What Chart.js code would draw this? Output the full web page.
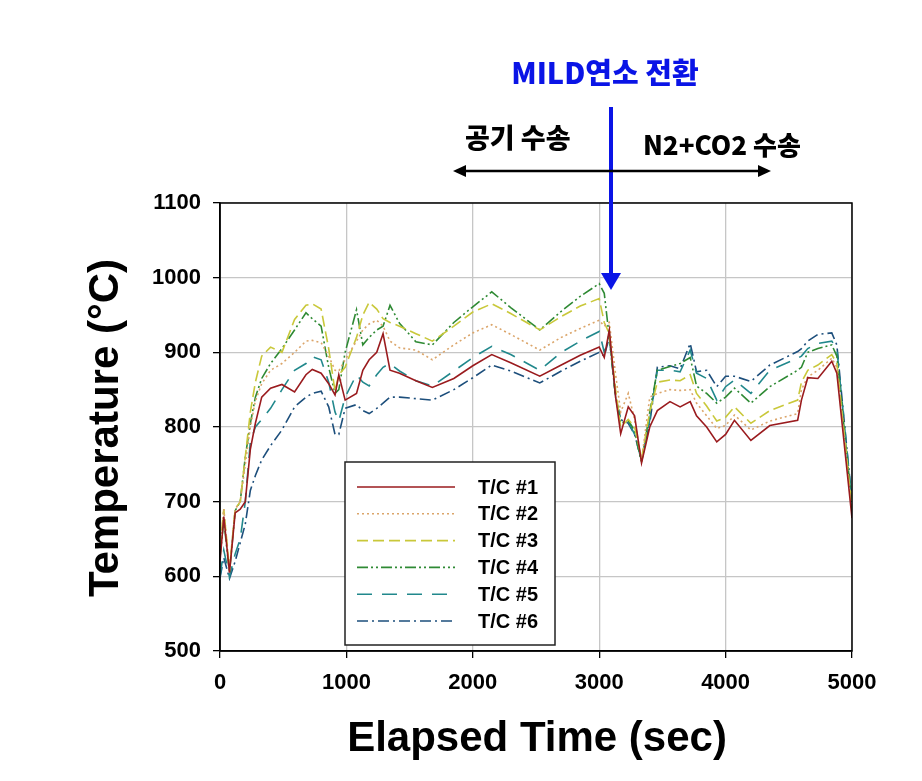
<!DOCTYPE html>
<html>
<head>
<meta charset="utf-8">
<script src="https://cdn.jsdelivr.net/npm/chart.js@4.4.1/dist/chart.umd.min.js"></script>
<style>
  body { margin: 0; background: #fff; }
  canvas { display: block; }
</style>
</head>
<body>
<canvas id="chart" width="922" height="781"></canvas>
<script>
// elapsed time (sec), shared by all thermocouples
const times = [0, 30, 75, 120, 160, 200, 240, 280, 330, 400, 490, 590, 680, 730, 800, 860, 910, 940, 990,
  1080, 1130, 1180, 1240, 1290, 1345, 1420, 1550, 1680, 1850, 2000, 2150, 2300, 2530, 2700, 2850, 3000,
  3040, 3080, 3130, 3170, 3230, 3280, 3335, 3400, 3460, 3560, 3640, 3720, 3770, 3850, 3930, 4000, 4070,
  4200, 4350, 4570, 4600, 4650, 4730, 4840, 4880, 5000];

const tc1 = [620, 680, 605, 685, 690, 700, 770, 805, 840, 852, 857, 847, 870, 877, 872, 858, 843, 870, 836,
  845, 876, 890, 900, 925, 876, 872, 862, 853, 865, 882, 897, 886, 868, 883, 896, 907,
  893, 930, 840, 791, 827, 815, 752, 800, 822, 834, 827, 834, 815, 800, 780, 790, 809,
  782, 802, 809, 836, 866, 865, 888, 872, 678];
const tc2 = [630, 690, 608, 690, 700, 750, 800, 835, 858, 876, 885, 900, 915, 916, 913, 895, 876, 875, 890,
  915, 930, 938, 943, 935, 915, 906, 903, 890, 910, 926, 937, 924, 903, 920, 932, 943,
  935, 940, 870, 820, 845, 810, 755, 840, 845, 850, 849, 850, 832, 815, 798, 802, 816,
  796, 808, 818, 850, 867, 876, 892, 880, 685];
const tc3 = [640, 690, 610, 690, 700, 760, 820, 860, 895, 907, 900, 944, 963, 965, 958, 905, 848, 870, 880,
  920, 950, 967, 958, 945, 940, 935, 925, 915, 935, 954, 965, 952, 930, 948, 962, 972,
  940, 925, 850, 800, 810, 800, 758, 820, 860, 863, 862, 870, 845, 828, 808, 813, 827,
  805, 822, 836, 860, 876, 883, 897, 885, 690];
const tc4 = [625, 675, 605, 688, 700, 760, 805, 840, 865, 885, 905, 930, 953, 945, 935, 880, 845, 850, 900,
  957, 910, 920, 930, 935, 963, 939, 914, 910, 940, 961, 981, 960, 930, 955, 975, 992,
  979, 920, 840, 805, 809, 795, 752, 820, 876, 881, 885, 893, 855, 845, 832, 840, 852,
  832, 854, 876, 880, 900, 905, 910, 895, 695];
const tc5 = [600, 635, 599, 630, 650, 700, 780, 800, 810, 825, 850, 876, 885, 894, 890, 860, 820, 808, 840,
  870, 860, 855, 870, 880, 885, 875, 862, 855, 875, 893, 908, 897, 876, 900, 915, 928,
  900, 925, 840, 810, 808, 790, 755, 810, 876, 876, 874, 903, 872, 865, 836, 854, 863,
  845, 876, 892, 895, 905, 912, 915, 905, 700];
const tc6 = [598, 625, 597, 620, 645, 670, 715, 735, 756, 775, 796, 827, 840, 845, 848, 827, 790, 790, 825,
  830, 822, 818, 825, 832, 840, 840, 838, 836, 850, 866, 883, 875, 859, 875, 888, 900,
  895, 920, 840, 810, 805, 790, 755, 805, 880, 882, 878, 912, 874, 876, 854, 868, 868,
  861, 883, 901, 905, 915, 924, 926, 910, 700];

const seriesNames = ['T/C #1', 'T/C #2', 'T/C #3', 'T/C #4', 'T/C #5', 'T/C #6'];
const seriesValues = [tc1, tc2, tc3, tc4, tc5, tc6];

const xTitle = 'Elapsed Time (sec)';
const yTitle = 'Temperature (°C)';
const switchLabel = 'MILD연소 전환';
const airLabel = '공기 수송';
const gasLabel = 'N2+CO2 수송';

const colors = ['#9a1b1e', '#dba56a', '#c9c83a', '#2f8a34', '#21888c', '#1d4f7c'];
const dashes = [[], [2, 3], [11, 5], [11, 3, 2, 3, 2, 3], [15, 10], [11, 4, 2, 4]];

const datasets = seriesValues.map((vals, i) => ({
  label: seriesNames[i],
  data: times.map((t, j) => ({ x: t, y: vals[j] })),
  borderColor: colors[i],
  borderDash: dashes[i],
  borderWidth: 1.6,
  pointRadius: 0,
  tension: 0,
  fill: false
}));

const FONT = '"Liberation Sans", Arial, sans-serif';
const KFONT = '"Noto Sans CJK KR", "Liberation Sans", sans-serif';

const overlay = {
  id: 'overlay',
  afterDraw(chart) {
    const ctx = chart.ctx;
    const a = chart.chartArea;
    ctx.save();

    // frame on top and right
    ctx.strokeStyle = '#000';
    ctx.lineWidth = 1.5;
    ctx.setLineDash([]);
    ctx.strokeRect(a.left, a.top, a.right - a.left, a.bottom - a.top);

    // axis titles
    ctx.fillStyle = '#000';
    ctx.font = 'bold 42px ' + FONT;
    ctx.textAlign = 'center';
    ctx.textBaseline = 'middle';
    ctx.fillText(xTitle, 537, 739);
    ctx.save();
    ctx.translate(106, 428);
    ctx.rotate(-Math.PI / 2);
    ctx.fillText(yTitle, 0, 0);
    ctx.restore();

    // legend
    ctx.fillStyle = '#fff';
    ctx.fillRect(345, 462, 210, 183);
    ctx.strokeStyle = '#222';
    ctx.lineWidth = 1.5;
    ctx.strokeRect(345, 462, 210, 183);
    chart.data.datasets.forEach((ds, i) => {
      const y = 487 + i * 26.8;
      ctx.strokeStyle = ds.borderColor;
      ctx.lineWidth = 1.6;
      ctx.setLineDash(ds.borderDash);
      ctx.beginPath();
      ctx.moveTo(357, y);
      ctx.lineTo(455, y);
      ctx.stroke();
      ctx.setLineDash([]);
      ctx.fillStyle = '#000';
      ctx.font = 'bold 20px ' + FONT;
      ctx.textAlign = 'left';
      ctx.textBaseline = 'middle';
      ctx.fillText(ds.label, 478, y + 1);
    });

    // switch-over annotation
    ctx.fillStyle = '#0a14e6';
    ctx.font = '900 29px ' + KFONT;
    ctx.textAlign = 'center';
    ctx.textBaseline = 'middle';
    ctx.fillText(switchLabel, 605, 73);

    ctx.strokeStyle = '#0a14e6';
    ctx.lineWidth = 4;
    ctx.beginPath();
    ctx.moveTo(611, 107);
    ctx.lineTo(611, 276);
    ctx.stroke();
    ctx.beginPath();
    ctx.moveTo(601, 273);
    ctx.lineTo(621, 273);
    ctx.lineTo(611, 290);
    ctx.closePath();
    ctx.fill();

    // double arrow
    ctx.strokeStyle = '#000';
    ctx.fillStyle = '#000';
    ctx.lineWidth = 2.5;
    ctx.beginPath();
    ctx.moveTo(462, 171);
    ctx.lineTo(762, 171);
    ctx.stroke();
    ctx.beginPath();
    ctx.moveTo(453, 171);
    ctx.lineTo(466, 165);
    ctx.lineTo(466, 177);
    ctx.closePath();
    ctx.fill();
    ctx.beginPath();
    ctx.moveTo(771, 171);
    ctx.lineTo(758, 165);
    ctx.lineTo(758, 177);
    ctx.closePath();
    ctx.fill();

    ctx.font = '900 27px ' + KFONT;
    ctx.textAlign = 'left';
    ctx.fillText(airLabel, 465, 138);
    ctx.font = '900 26px ' + KFONT;
    ctx.fillText(gasLabel, 643, 145);

    ctx.restore();
  }
};

new Chart(document.getElementById('chart'), {
  type: 'line',
  data: { datasets: datasets },
  options: {
    responsive: false,
    animation: false,
    devicePixelRatio: 1,
    layout: { padding: { top: 203, right: 70, left: 0, bottom: 0 } },
    plugins: {
      legend: { display: false },
      tooltip: { enabled: false }
    },
    scales: {
      x: {
        type: 'linear',
        min: 0,
        max: 5000,
        afterFit: (scale) => { scale.height = 130; },
        ticks: {
          stepSize: 1000,
          color: '#000',
          padding: 12,
          maxRotation: 0,
          callback: (v) => String(v),
          font: { family: FONT, size: 22, weight: 'bold' }
        },
        grid: { color: '#c6c6c6', lineWidth: 1.3, tickColor: '#000', tickLength: 7 },
        border: { color: '#000', width: 1.5 }
      },
      y: {
        min: 500,
        max: 1100,
        afterFit: (scale) => { scale.width = 220; },
        ticks: {
          stepSize: 100,
          color: '#000',
          padding: 12,
          callback: (v) => String(v),
          font: { family: FONT, size: 22, weight: 'bold' }
        },
        grid: { color: '#c6c6c6', lineWidth: 1.3, tickColor: '#000', tickLength: 7 },
        border: { color: '#000', width: 1.5 }
      }
    }
  },
  plugins: [overlay]
});
</script>
</body>
</html>
